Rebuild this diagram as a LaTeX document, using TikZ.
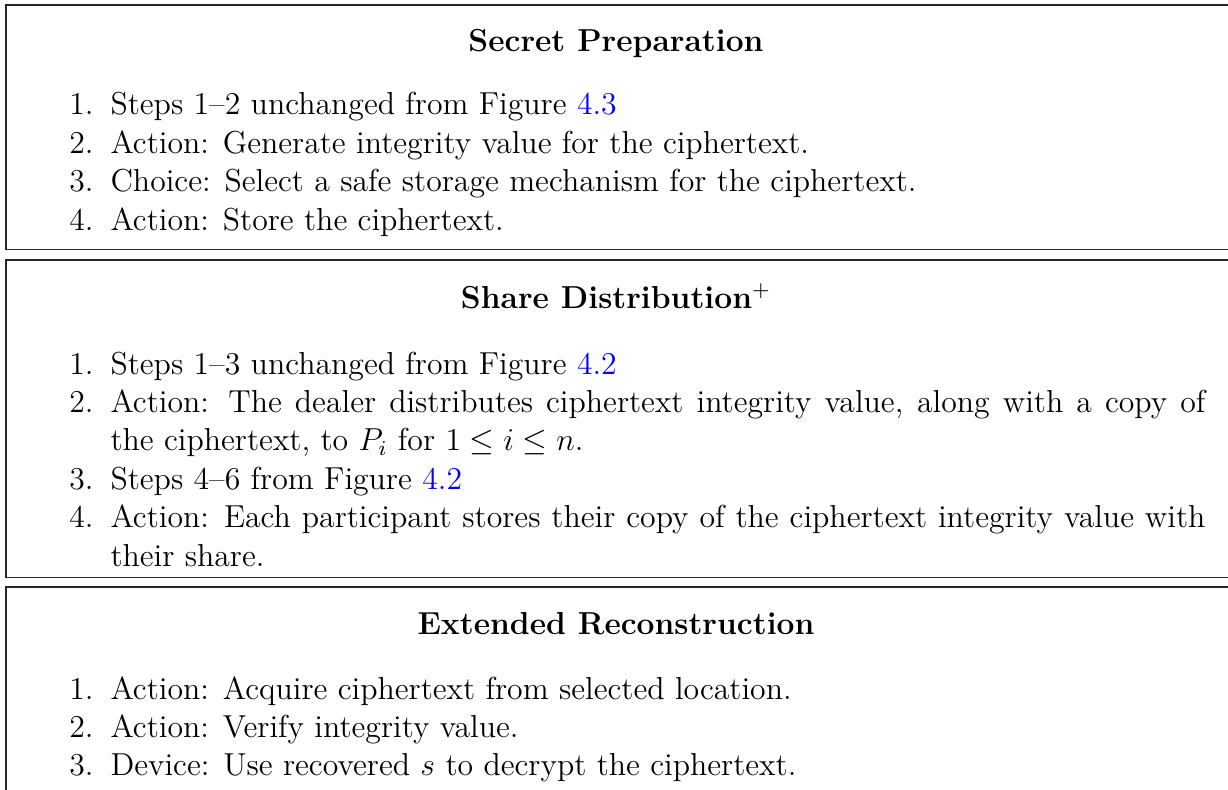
\documentclass[tikz,border=0pt]{standalone}
\begin{document}
\begin{tikzpicture}[x=0.37764pt,y=-0.37764pt,
  panel/.style={draw=black!85,line width=0.5pt},
  ttl/.style={anchor=base,inner sep=0pt,font=\fontsize{12}{14.5}\selectfont\bfseries},
  num/.style={anchor=base east,inner sep=0pt,font=\fontsize{12}{14.5}\selectfont},
  itm/.style={anchor=base west,inner sep=0pt,text width=413.5pt,align=justify,font=\fontsize{12}{14.5}\selectfont}]
\path[use as bounding box] (0,0) rectangle (1228,790);
\clip (0,0) rectangle (1228,790);
% panels
\draw[panel] (6,5) rectangle (1250,249.5);
\draw[panel] (6,260) rectangle (1250,577.5);
\draw[panel] (6,587) rectangle (1250,820);
% Secret Preparation
\node[ttl] (t1) at (616,52) {Secret Preparation};
\node[num] (a1n) at (94,115) {1.};
\node[itm] (a1) at (110,115) {Steps 1--2 unchanged from Figure \textcolor{blue}{4.3}};
\node[num] (a2n) at (94,153.4) {2.};
\node[itm] (a2) at (110,153.4) {Action: Generate integrity value for the ciphertext.};
\node[num] (a3n) at (94,191.8) {3.};
\node[itm] (a3) at (110,191.8) {Choice: Select a safe storage mechanism for the ciphertext.};
\node[num] (a4n) at (94,230.2) {4.};
\node[itm] (a4) at (110,230.2) {Action: Store the ciphertext.};
% Share Distribution
\node[ttl] (t2) at (616,308) {Share Distribution$^{+}$};
\node[num] (b1n) at (94,374) {1.};
\node[itm] (b1) at (110,374) {Steps 1--3 unchanged from Figure \textcolor{blue}{4.2}};
\node[num] (b2n) at (94,412.4) {2.};
\node[itm] (b2) at (110,412.4) {Action: The dealer distributes ciphertext integrity value, along with a copy of\linebreak the ciphertext, to $P_i$ for $1 \le i \le n$.};
\node[num] (b3n) at (94,489.2) {3.};
\node[itm] (b3) at (110,489.2) {Steps 4--6 from Figure \textcolor{blue}{4.2}};
\node[num] (b4n) at (94,527.6) {4.};
\node[itm] (b4) at (110,527.6) {Action: Each participant stores their copy of the ciphertext integrity value with\linebreak their share.};
% Extended Reconstruction
\node[ttl] (t3) at (616,634) {Extended Reconstruction};
\node[num] (c1n) at (94,699) {1.};
\node[itm] (c1) at (110,699) {Action: Acquire ciphertext from selected location.};
\node[num] (c2n) at (94,737.4) {2.};
\node[itm] (c2) at (110,737.4) {Action: Verify integrity value.};
\node[num] (c3n) at (94,775.8) {3.};
\node[itm] (c3) at (110,775.8) {Device: Use recovered $s$ to decrypt the ciphertext.};
\end{tikzpicture}
\end{document}
